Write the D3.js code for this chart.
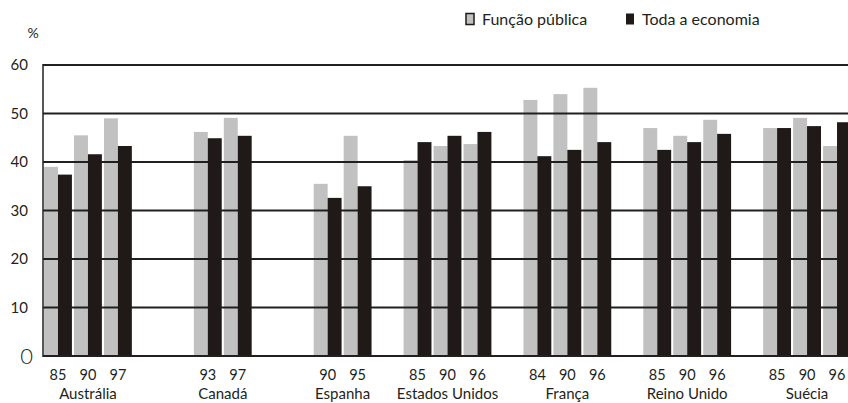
<!DOCTYPE html>
<html lang="pt">
<head>
  <meta charset="UTF-8">
  <title>Função pública e toda a economia</title>
  <script src="https://d3js.org/d3.v7.min.js"></script>
  <style>
    body {
      margin: 0;
      background: #fff;
    }
    svg {
      display: block;
      font-family: 'Lato', 'Open Sans', sans-serif;
    }
    .tick-label {
      font-size: 15px;
      fill: #231f20;
    }
    .x-label {
      font-size: 14.5px;
      fill: #231f20;
    }
  </style>
</head>
<body>
  <svg id="chart"></svg>

  <script>
    // dados
    const paises = ["Austrália", "Canadá", "Espanha", "Estados Unidos", "França", "Reino Unido", "Suécia"];
    const anos = [
      ["85", "90", "97"],
      ["93", "97"],
      ["90", "95"],
      ["85", "90", "96"],
      ["84", "90", "96"],
      ["85", "90", "96"],
      ["85", "90", "96"]
    ];
    const funcaoPublica = [
      [39.0, 45.5, 49.0],
      [46.2, 49.1],
      [35.5, 45.4],
      [40.4, 43.3, 43.7],
      [52.8, 54.0, 55.3],
      [47.0, 45.4, 48.7],
      [47.0, 49.1, 43.3]
    ];
    const todaEconomia = [
      [37.4, 41.6, 43.3],
      [44.9, 45.4],
      [32.6, 35.0],
      [44.1, 45.4, 46.2],
      [41.2, 42.5, 44.1],
      [42.5, 44.1, 45.8],
      [47.0, 47.4, 48.2]
    ];
    const yTicks = [10, 20, 30, 40, 50, 60];
    const series = ["Função pública", "Toda a economia"];

    const W = 848, H = 403;
    const plot = { left: 43, right: 848, top: 65, bottom: 356 };
    const corCinza = "#c1c1c1", corPreta = "#1f1a17", corLinha = "#231f20";

    const svg = d3.select("#chart").attr("width", W).attr("height", H);

    // cada país ocupa 3 posições + 1 espaço; anos alinhados à direita do bloco
    const linhas = [];
    paises.forEach((p, i) => {
      const n = anos[i].length;
      anos[i].forEach((a, j) => {
        linhas.push({
          pais: p, ano: a,
          slot: 4 * i + (3 - n) + j,
          fp: funcaoPublica[i][j],
          te: todaEconomia[i][j]
        });
      });
    });

    const x = d3.scaleBand()
      .domain(d3.range(4 * paises.length - 1))
      .range([plot.left, 852])
      .paddingInner(0.07)
      .paddingOuter(0.035);

    const y = d3.scaleLinear()
      .domain([0, 60])
      .range([plot.bottom, plot.top]);

    const bw = x.bandwidth() / 2;

    // barras cinzentas (função pública)
    svg.append("g")
      .selectAll("rect")
      .data(linhas)
      .join("rect")
      .attr("x", d => x(d.slot))
      .attr("y", d => y(d.fp))
      .attr("width", bw)
      .attr("height", d => y(0) - y(d.fp))
      .attr("fill", corCinza);

    // linhas de grelha (ficam por cima do cinzento)
    svg.append("g")
      .selectAll("line")
      .data(yTicks)
      .join("line")
      .attr("x1", plot.left)
      .attr("x2", plot.right)
      .attr("y1", d => y(d))
      .attr("y2", d => y(d))
      .attr("stroke", corLinha)
      .attr("stroke-width", 2);

    // barras pretas (toda a economia)
    svg.append("g")
      .selectAll("rect")
      .data(linhas)
      .join("rect")
      .attr("x", d => x(d.slot) + bw)
      .attr("y", d => y(d.te))
      .attr("width", bw)
      .attr("height", d => y(0) - y(d.te))
      .attr("fill", corPreta);

    // eixos
    svg.append("line")
      .attr("x1", plot.left).attr("x2", plot.left)
      .attr("y1", y(60) - 1).attr("y2", y(0) + 1)
      .attr("stroke", corLinha).attr("stroke-width", 1.5);
    svg.append("line")
      .attr("x1", plot.left).attr("x2", plot.right)
      .attr("y1", y(0)).attr("y2", y(0))
      .attr("stroke", corLinha).attr("stroke-width", 2);

    // rótulos do eixo y
    svg.append("g")
      .selectAll("text")
      .data(yTicks)
      .join("text")
      .attr("class", "tick-label")
      .attr("x", 28)
      .attr("y", d => y(d))
      .attr("dy", "0.36em")
      .attr("text-anchor", "end")
      .text(d => d);
    svg.append("text")
      .attr("x", 33)
      .attr("y", y(0))
      .attr("dy", "0.36em")
      .attr("text-anchor", "end")
      .attr("font-size", 22)
      .attr("font-weight", 300)
      .attr("fill", corLinha)
      .text("0");
    svg.append("text")
      .attr("class", "tick-label")
      .attr("x", 33)
      .attr("y", 38)
      .attr("text-anchor", "middle")
      .style("font-size", "14px")
      .text("%");

    // anos e países no eixo x
    svg.append("g")
      .selectAll("text")
      .data(linhas)
      .join("text")
      .attr("class", "x-label")
      .attr("x", d => x(d.slot) + x.bandwidth() / 2)
      .attr("y", 380)
      .attr("text-anchor", "middle")
      .text(d => d.ano);

    svg.append("g")
      .selectAll("text")
      .data(paises)
      .join("text")
      .attr("class", "x-label")
      .attr("x", (p, i) => {
        const s = linhas.filter(d => d.pais === p);
        return (x(s[0].slot) + x(s[s.length - 1].slot) + x.bandwidth()) / 2;
      })
      .attr("y", 399)
      .attr("text-anchor", "middle")
      .style("font-size", "15px")
      .text(d => d);

    // legenda
    const legenda = svg.append("g");
    const legX = [466, 626];
    series.forEach((s, i) => {
      legenda.append("rect")
        .attr("x", legX[i])
        .attr("y", 13.5)
        .attr("width", 8)
        .attr("height", 11)
        .attr("fill", i === 0 ? corCinza : corPreta)
        .attr("stroke", corPreta)
        .attr("stroke-width", i === 0 ? 1.5 : 0);
      legenda.append("text")
        .attr("x", legX[i] + 16)
        .attr("y", 25)
        .attr("font-size", 16)
        .attr("fill", corLinha)
        .text(s);
    });
  </script>
</body>
</html>
